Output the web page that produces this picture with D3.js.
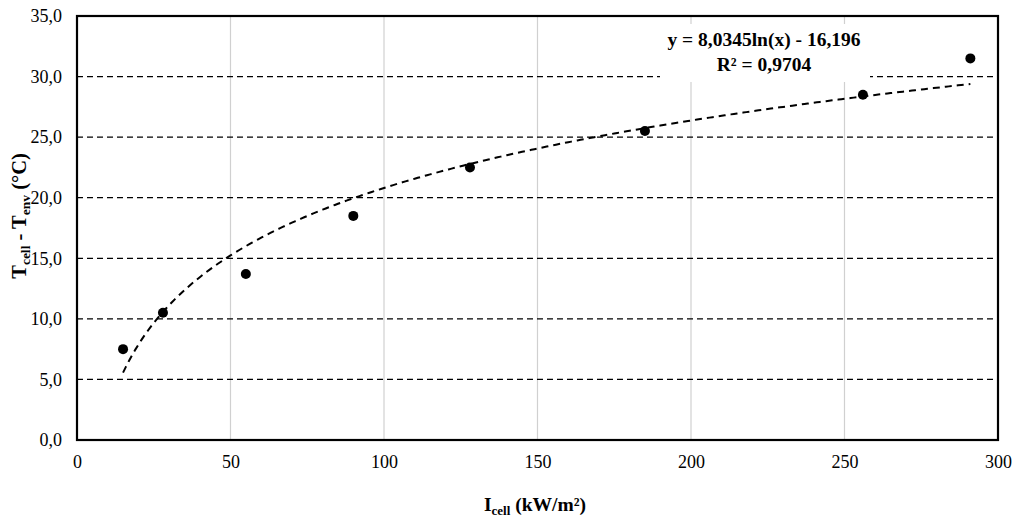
<!DOCTYPE html>
<html>
<head>
<meta charset="utf-8">
<script src="https://cdn.jsdelivr.net/npm/d3@7"></script>
<style>
  body { margin: 0; background: #fff; }
  svg { display: block; }
  text { font-family: "Liberation Serif", "Times New Roman", serif; fill: #000; }
</style>
</head>
<body>
<svg id="chart" width="1013" height="519"></svg>
<script>
// Measured points: cell irradiance (kW/m²) vs temperature rise (°C)
const irradiance = [15, 28, 55, 90, 128, 185, 256, 291];
const deltaT = [7.5, 10.5, 13.7, 18.5, 22.5, 25.5, 28.5, 31.5];
const xTicks = [0, 50, 100, 150, 200, 250, 300];
const yTicks = [0, 5, 10, 15, 20, 25, 30, 35];
// Logarithmic fit y = a ln(x) + b
const fitA = 8.0345, fitB = -16.196;
const fitLabel = ["y = 8,0345ln(x) - 16,196", "R² = 0,9704"];

const svg = d3.select("#chart");
const m = { left: 77, right: 15, top: 16, bottom: 79 };
const W = 1013, H = 519;

const x = d3.scaleLinear().domain([0, 300]).range([m.left, W - m.right]);
const y = d3.scaleLinear().domain([0, 35]).range([H - m.bottom, m.top]);
const fmt = v => d3.format(".1f")(v).replace(".", ",");

// vertical gridlines
svg.append("g").selectAll("line")
  .data(xTicks.filter(t => t > 0 && t < 300))
  .join("line")
  .attr("x1", d => x(d)).attr("x2", d => x(d))
  .attr("y1", y(0)).attr("y2", y(35))
  .attr("stroke", "#d0d0d0").attr("stroke-width", 1.2);

// horizontal dashed gridlines
svg.append("g").selectAll("line")
  .data(yTicks.filter(t => t > 0 && t < 35))
  .join("line")
  .attr("x1", x(0)).attr("x2", x(300))
  .attr("y1", d => y(d)).attr("y2", d => y(d))
  .attr("stroke", "#000").attr("stroke-width", 1.2)
  .attr("stroke-dasharray", "6,4");

// trendline
const fitX = d3.range(irradiance[0], irradiance[irradiance.length - 1] + 0.01, 1);
const line = d3.line().x(d => x(d)).y(d => y(fitA * Math.log(d) + fitB));
svg.append("path").datum(fitX)
  .attr("d", line).attr("fill", "none")
  .attr("stroke", "#000").attr("stroke-width", 2)
  .attr("stroke-dasharray", "7,5");

// label box for the fit equation
const lx = 764;
svg.append("rect")
  .attr("x", 660).attr("y", 24).attr("width", 210).attr("height", 58)
  .attr("fill", "#fff");
svg.append("text")
  .attr("x", lx).attr("y", 46).attr("text-anchor", "middle")
  .attr("font-size", 19.5).attr("font-weight", "bold").text(fitLabel[0]);
svg.append("text")
  .attr("x", lx).attr("y", 71).attr("text-anchor", "middle")
  .attr("font-size", 19.5).attr("font-weight", "bold").text(fitLabel[1]);

// data points
svg.append("g").selectAll("circle")
  .data(irradiance.map((v, i) => [v, deltaT[i]]))
  .join("circle")
  .attr("cx", d => x(d[0])).attr("cy", d => y(d[1]))
  .attr("r", 5).attr("fill", "#000");

// plot frame
svg.append("rect")
  .attr("x", x(0)).attr("y", y(35))
  .attr("width", x(300) - x(0)).attr("height", y(0) - y(35))
  .attr("fill", "none").attr("stroke", "#000").attr("stroke-width", 2.2);

// axes (labels only)
const xAxis = d3.axisBottom(x).tickValues(xTicks).tickSize(0).tickPadding(15).tickFormat(d3.format("d"));
svg.append("g").attr("transform", `translate(0,${y(0)})`).call(xAxis)
  .call(g => g.select(".domain").remove())
  .selectAll("text").attr("font-size", 18).style("font-family", "Liberation Serif").attr("fill", "#000");

const yAxis = d3.axisLeft(y).tickValues(yTicks).tickSize(0).tickPadding(15).tickFormat(fmt);
svg.append("g").attr("transform", `translate(${x(0)},0)`).call(yAxis)
  .call(g => g.select(".domain").remove())
  .selectAll("text").attr("font-size", 18).style("font-family", "Liberation Serif").attr("fill", "#000");

// axis titles
const xt = svg.append("text")
  .attr("x", 535).attr("y", 511).attr("text-anchor", "middle")
  .attr("font-size", 19.5).attr("font-weight", "bold");
xt.append("tspan").text("I");
xt.append("tspan").attr("font-size", 13).attr("dy", 4).text("cell");
xt.append("tspan").attr("dy", -4).text(" (kW/m²)");

const yt = svg.append("text")
  .attr("transform", `translate(26,216) rotate(-90)`)
  .attr("text-anchor", "middle")
  .attr("font-size", 20.5).attr("font-weight", "bold");
yt.append("tspan").text("T");
yt.append("tspan").attr("font-size", 13.5).attr("dy", 4).text("cell");
yt.append("tspan").attr("dy", -4).text(" - T");
yt.append("tspan").attr("font-size", 13.5).attr("dy", 4).text("env");
yt.append("tspan").attr("dy", -4).text(" (°C)");
</script>
</body>
</html>
